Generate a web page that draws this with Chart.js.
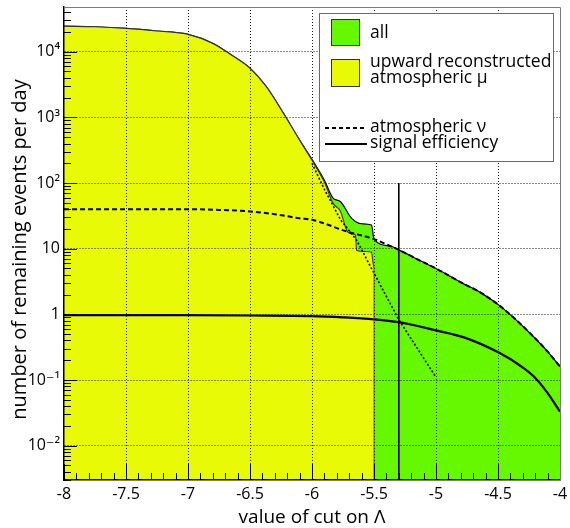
<!DOCTYPE html>
<html>
<head>
<meta charset="utf-8">
<script src="https://cdn.jsdelivr.net/npm/chart.js@4/dist/chart.umd.min.js"></script>
<style>
  html, body { margin: 0; padding: 0; background: #ffffff; }
  #wrap { width: 570px; height: 528px; position: relative; }
</style>
</head>
<body>
<div id="wrap"><canvas id="c"></canvas></div>
<script>
// Remaining events per day as a function of the cut on the Λ quality parameter.

// all events (sum of every contribution)
const allCut  = [-8, -7.75, -7.5, -7.25, -7, -6.8, -6.65, -6.5, -6.37, -6.23, -6.1, -6.0, -5.9, -5.83, -5.77, -5.68, -5.6, -5.52, -5.5, -5.37, -5.3, -5.13, -5.0, -4.78, -4.65, -4.49, -4.35, -4.215, -4.107, -4.0];
const allRate = [24500, 24000, 22700, 20700, 18400, 13400, 8900, 5600, 2960, 1150, 450, 230, 110, 59, 52, 29, 24, 23, 14, 11.0, 9.6, 6.6, 5.0, 2.94, 2.2, 1.37, 0.81, 0.46, 0.28, 0.16];

// upward reconstructed atmospheric muons (histogram empties beyond -5.5)
const muCut  = [-8, -7.75, -7.5, -7.25, -7, -6.8, -6.65, -6.5, -6.37, -6.23, -6.1, -6.0, -5.9, -5.83, -5.77, -5.72, -5.69, -5.65, -5.64, -5.52, -5.51, -5.5];
const muRate = [24500, 24000, 22700, 20700, 18400, 13400, 8900, 5600, 2960, 1150, 450, 222, 103, 49, 37, 19, 17, 16.2, 9.4, 8.9, 6.6, 5.0];

// extrapolated muon tail
const muTailCut  = [-6.0, -5.9, -5.77, -5.64, -5.48, -5.3, -5.0];
const muTailRate = [200, 80, 27.6, 13.5, 3.6, 0.83, 0.11];

// atmospheric neutrinos
const nuCut  = [-8, -7.5, -7, -6.75, -6.5, -6.26, -6.1, -6.0, -5.72, -5.5, -5.37, -5.3, -5.13, -5.0, -4.78, -4.65, -4.49, -4.35, -4.215, -4.107, -4.0];
const nuRate = [40, 40, 40, 39, 37, 32.7, 29, 27.6, 18.3, 14, 11.0, 9.6, 6.6, 5.0, 2.94, 2.2, 1.37, 0.81, 0.46, 0.28, 0.16];

// signal efficiency
const sigCut = [-8, -7, -6.5, -6, -5.75, -5.5, -5.3, -5.0, -4.78, -4.49, -4.32, -4.215, -4.107, -4.0];
const sigEff = [0.97, 0.97, 0.96, 0.94, 0.9, 0.84, 0.76, 0.57, 0.45, 0.26, 0.165, 0.115, 0.066, 0.033];

// chosen cut value
const chosenCut = -5.3;
const chosenCutTop = 100;

// axes
const xMin = -8, xMax = -4;
const yMin = 3e-3, yMax = 4.8e4;
const xTickValues = [-8, -7.5, -7, -6.5, -6, -5.5, -5, -4.5, -4];
const xTickLabels = ['-8', '-7.5', '-7', '-6.5', '-6', '-5.5', '-5', '-4.5', '-4'];
const yTickValues = [1e-2, 1e-1, 1, 10, 1e2, 1e3, 1e4];
const yTickLabels = ['10\u207B\u00B2', '10\u207B\u00B9', '1', '10', '10\u00B2', '10\u00B3', '10\u2074'];
const yTitle = 'number of remaining events per day';

const GREEN = '#66f800';
const YELLOW = '#e8fa06';
const FONT = "'Open Sans', 'DejaVu Sans', sans-serif";

const pts = (xs, ys) => xs.map((x, i) => ({ x: x, y: ys[i] }));

// outline where the muon histogram ends
const muEdge = {
  id: 'muEdge',
  afterDatasetsDraw(chart) {
    const { ctx, chartArea: a, scales: { x, y } } = chart;
    const last = muCut.length - 1;
    const px = x.getPixelForValue(muCut[last]);
    ctx.save();
    ctx.strokeStyle = '#555';
    ctx.lineWidth = 1;
    ctx.beginPath();
    ctx.moveTo(px, y.getPixelForValue(muRate[last]));
    ctx.lineTo(px, a.bottom);
    ctx.stroke();
    ctx.restore();
  }
};

// inner tick marks (major + minor) on the left and bottom axes, plus frame
const innerTicks = {
  id: 'innerTicks',
  afterDraw(chart) {
    const { ctx, chartArea: a, scales: { x, y } } = chart;
    ctx.save();
    ctx.strokeStyle = '#000';
    ctx.lineWidth = 1;
    ctx.beginPath();
    for (let d = -3; d <= 4; d++) {
      for (let k = 1; k <= 9; k++) {
        const v = k * Math.pow(10, d);
        if (v < yMin || v > yMax) continue;
        const py = Math.round(y.getPixelForValue(v)) + 0.5;
        const len = k === 1 ? 13 : 7;
        ctx.moveTo(a.left, py);
        ctx.lineTo(a.left + len, py);
      }
    }
    for (let i = 0; i <= 40; i++) {
      const v = xMin + i * 0.1;
      const px = Math.round(x.getPixelForValue(v)) + 0.5;
      const len = i % 5 === 0 ? 16 : 7;
      ctx.moveTo(px, a.bottom);
      ctx.lineTo(px, a.bottom - len);
    }
    ctx.stroke();
    ctx.strokeStyle = '#7a7a7a';
    ctx.beginPath();
    ctx.moveTo(a.left, a.top + 0.5);
    ctx.lineTo(a.right + 0.5, a.top + 0.5);
    ctx.lineTo(a.right + 0.5, a.bottom);
    ctx.stroke();

    // y axis title
    ctx.fillStyle = '#000';
    ctx.font = '20px ' + FONT;
    ctx.textAlign = 'center';
    ctx.textBaseline = 'middle';
    ctx.translate(20, (a.top + a.bottom) / 2 + 6);
    ctx.rotate(-Math.PI / 2);
    ctx.fillText(yTitle, 0, 0);
    ctx.restore();
  }
};

// legend box drawn inside the plot area
const boxLegend = {
  id: 'boxLegend',
  afterDraw(chart) {
    const { ctx, chartArea: a } = chart;
    const L = a.right - 241, T = a.top + 6, W = 234, H = 148;
    ctx.save();
    ctx.fillStyle = '#fff';
    ctx.fillRect(L, T, W, H);
    ctx.strokeStyle = '#6a6a6a';
    ctx.lineWidth = 1;
    ctx.strokeRect(L + 0.5, T + 0.5, W, H);

    const sx = L + 12, sw = 28;
    ctx.fillStyle = GREEN;
    ctx.fillRect(sx, T + 6, sw, 26);
    ctx.strokeStyle = '#333';
    ctx.strokeRect(sx + 0.5, T + 6.5, sw, 26);
    ctx.fillStyle = YELLOW;
    ctx.fillRect(sx, T + 46, sw, 27);
    ctx.strokeRect(sx + 0.5, T + 46.5, sw, 27);

    ctx.strokeStyle = '#000';
    ctx.lineWidth = 2;
    ctx.setLineDash([4, 3]);
    ctx.beginPath();
    ctx.moveTo(L + 6, T + 115);
    ctx.lineTo(L + 48, T + 115);
    ctx.stroke();
    ctx.setLineDash([]);
    ctx.beginPath();
    ctx.moveTo(L + 6, T + 131);
    ctx.lineTo(L + 48, T + 131);
    ctx.stroke();

    ctx.fillStyle = '#000';
    ctx.font = '17.5px ' + FONT;
    ctx.textBaseline = 'alphabetic';
    ctx.textAlign = 'left';
    const tx = L + 51;
    ctx.fillText('all', tx, T + 25);
    ctx.fillText('upward reconstructed', tx, T + 54);
    ctx.fillText('atmospheric \u03BC', tx, T + 70);
    ctx.fillText('atmospheric \u03BD', tx, T + 119);
    ctx.fillText('signal efficiency', tx, T + 135);
    ctx.restore();
  }
};

const gridColor = (edgeA, edgeB) => (c) => {
  const v = c.tick ? c.tick.value : null;
  return (v === edgeA || v === edgeB) ? 'rgba(0,0,0,0)' : '#1a1a1a';
};

const smooth = { cubicInterpolationMode: 'monotone', tension: 0.4 };

new Chart(document.getElementById('c'), {
  type: 'line',
  data: {
    datasets: [
      Object.assign({ label: 'signal efficiency', data: pts(sigCut, sigEff), borderColor: '#000', borderWidth: 2.2, fill: false }, smooth),
      Object.assign({ label: 'atmospheric \u03BD', data: pts(nuCut, nuRate), borderColor: '#000', borderWidth: 2, borderDash: [5, 3], fill: false }, smooth),
      { label: 'muon tail', data: pts(muTailCut, muTailRate), borderColor: '#000', borderWidth: 1.6, borderDash: [2, 2], fill: false },
      { label: 'cut', data: [{ x: chosenCut, y: yMin }, { x: chosenCut, y: chosenCutTop }], borderColor: '#000', borderWidth: 1.6, fill: false },
      Object.assign({ label: 'upward reconstructed atmospheric \u03BC', data: pts(muCut, muRate), borderColor: '#333', borderWidth: 1.1, backgroundColor: YELLOW, fill: 'start' }, smooth),
      Object.assign({ label: 'all', data: pts(allCut, allRate), borderColor: '#000', borderWidth: 1.2, backgroundColor: GREEN, fill: 'start' }, smooth)
    ]
  },
  options: {
    responsive: true,
    maintainAspectRatio: false,
    animation: false,
    events: [],
    elements: { point: { radius: 0 } },
    layout: { padding: { top: 7, right: 10, left: 0, bottom: 0 } },
    plugins: { legend: { display: false }, tooltip: { enabled: false } },
    scales: {
      x: {
        type: 'linear',
        min: xMin, max: xMax,
        afterBuildTicks: (s) => { s.ticks = xTickValues.map(v => ({ value: v })); },
        afterFit: (s) => { s.height = 48; s.paddingLeft = 0; s.paddingRight = 0; },
        grid: { z: 1, drawTicks: false, lineWidth: 1, color: gridColor(xMin, xMax) },
        border: { display: true, color: '#000', width: 1.5, dash: [1, 2], z: 2 },
        ticks: {
          padding: 5, maxRotation: 0, autoSkip: false,
          color: '#000', font: { family: FONT, size: 16 },
          callback: (v, i) => xTickLabels[i]
        },
        title: {
          display: true, text: 'value of cut on \u039B', color: '#000',
          font: { family: FONT, size: 19, lineHeight: 1 },
          padding: { top: 0, bottom: 0.5 }
        }
      },
      y: {
        type: 'logarithmic',
        min: yMin, max: yMax,
        afterBuildTicks: (s) => { s.ticks = yTickValues.map(v => ({ value: v })); },
        afterFit: (s) => { s.width = 64; s.paddingTop = 0; s.paddingBottom = 0; },
        grid: { z: 1, drawTicks: false, lineWidth: 1, color: '#1a1a1a' },
        border: { display: true, color: '#000', width: 1.5, dash: [1, 2], z: 2 },
        ticks: {
          padding: 4, autoSkip: false,
          color: '#000', font: { family: FONT, size: 16 },
          callback: (v, i) => yTickLabels[i]
        }
      }
    }
  },
  plugins: [muEdge, innerTicks, boxLegend]
});
</script>
</body>
</html>
